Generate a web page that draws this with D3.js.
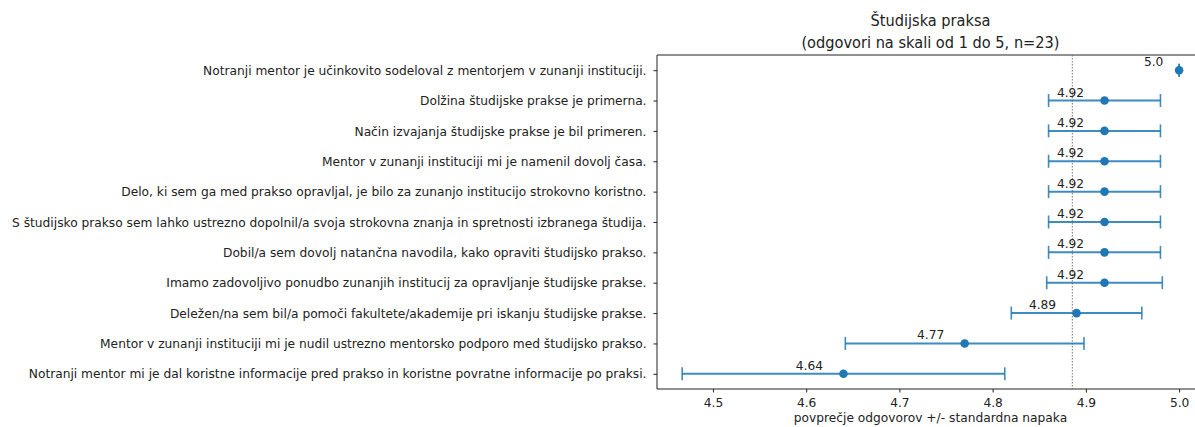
<!DOCTYPE html>
<html>
<head>
<meta charset="utf-8">
<script src="https://cdn.jsdelivr.net/npm/d3@7"></script>
<style>
  body { margin: 0; background: #fff; }
  svg { display: block; font-family: "DejaVu Sans", sans-serif; }
</style>
</head>
<body>
<div id="chart"></div>
<script>
const width = 1195
const height = 427

// data
const questions = [
  "Notranji mentor je učinkovito sodeloval z mentorjem v zunanji instituciji.",
  "Dolžina študijske prakse je primerna.",
  "Način izvajanja študijske prakse je bil primeren.",
  "Mentor v zunanji instituciji mi je namenil dovolj časa.",
  "Delo, ki sem ga med prakso opravljal, je bilo za zunanjo institucijo strokovno koristno.",
  "S študijsko prakso sem lahko ustrezno dopolnil/a svoja strokovna znanja in spretnosti izbranega študija.",
  "Dobil/a sem dovolj natančna navodila, kako opraviti študijsko prakso.",
  "Imamo zadovoljivo ponudbo zunanjih institucij za opravljanje študijske prakse.",
  "Deležen/na sem bil/a pomoči fakultete/akademije pri iskanju študijske prakse.",
  "Mentor v zunanji instituciji mi je nudil ustrezno mentorsko podporo med študijsko prakso.",
  "Notranji mentor mi je dal koristne informacije pred prakso in koristne povratne informacije po praksi."
]
const means = [5.0, 4.92, 4.92, 4.92, 4.92, 4.92, 4.92, 4.92, 4.89, 4.77, 4.64]
const stdErrors = [0, 0.06, 0.06, 0.06, 0.06, 0.06, 0.06, 0.062, 0.07, 0.128, 0.173]
const xTicks = [4.5, 4.6, 4.7, 4.8, 4.9, 5.0]

const title1 = "Študijska praksa"
const title2 = "(odgovori na skali od 1 do 5, n=23)"
const xLabel = "povprečje odgovorov +/- standardna napaka"

const blue = "#1f77b4"
const squeeze = 0.94   // text in the picture is a bit narrower than normal

const rows = questions.map((q, i) => ({q: q, mean: means[i], se: stdErrors[i]}))
const overall = d3.mean(means)

const plotLeft = 657, plotRight = 1204, plotTop = 55, plotBottom = 389

const x = d3.scaleLinear()
            .domain([4.44, 5.0267])
            .range([plotLeft, plotRight])

const y = d3.scalePoint()
            .domain(questions)
            .range([plotTop, plotBottom])
            .padding(0.5)

const svg = d3.select("#chart")
              .append("svg")
              .attr("width", width)
              .attr("height", height)

// x axis
const xAxis = svg.append("g")
   .attr("transform", `translate(0, ${plotBottom})`)
   .call(d3.axisBottom(x).tickValues(xTicks).tickFormat(d3.format(".1f")).tickSize(3.5).tickPadding(5))
xAxis.select(".domain").remove()
xAxis.selectAll("line").attr("stroke", "#222")
xAxis.selectAll("text").attr("font-size", 13).attr("fill", "#222").attr("font-family", "DejaVu Sans")

// y axis
const yAxis = svg.append("g")
   .attr("transform", `translate(${plotLeft}, 0)`)
   .call(d3.axisLeft(y).tickSize(3.5).tickPadding(7))
yAxis.select(".domain").remove()
yAxis.selectAll("line").attr("stroke", "#222")
yAxis.selectAll("text").attr("font-size", 13).attr("fill", "#222").attr("font-family", "DejaVu Sans")

// spines (right one falls outside the picture)
svg.append("path")
   .attr("d", `M${plotRight},${plotTop}H${plotLeft}V${plotBottom}H${plotRight}`)
   .attr("fill", "none")
   .attr("stroke", "#222")
   .attr("stroke-width", 1)

// mean of all means
svg.append("line")
   .attr("x1", x(overall)).attr("x2", x(overall))
   .attr("y1", plotTop).attr("y2", plotBottom)
   .attr("stroke", "#666")
   .attr("stroke-width", 0.9)
   .attr("stroke-dasharray", "1.5,1.5")

// error bars
const bars = svg.append("g")
                .selectAll("g")
                .data(rows)
                .enter()
                .append("g")

bars.append("line")
    .attr("x1", d => x(d.mean - d.se))
    .attr("x2", d => x(d.mean + d.se))
    .attr("y1", d => y(d.q)).attr("y2", d => y(d.q))
    .attr("stroke", blue)
    .attr("stroke-opacity", 0.85)
    .attr("stroke-width", 2)

bars.selectAll(".cap")
    .data(d => [d.mean - d.se, d.mean + d.se].map(v => ({v: v, q: d.q})))
    .enter()
    .append("line")
    .attr("class", "cap")
    .attr("x1", c => x(c.v)).attr("x2", c => x(c.v))
    .attr("y1", c => y(c.q) - 6.5).attr("y2", c => y(c.q) + 6.5)
    .attr("stroke", blue)
    .attr("stroke-opacity", 0.85)
    .attr("stroke-width", 1.6)

bars.append("circle")
    .attr("cx", d => x(d.mean))
    .attr("cy", d => y(d.q))
    .attr("r", 4.3)
    .attr("fill", blue)

const fmt = v => Number.isInteger(v) ? v.toFixed(1) : String(v)

bars.append("text")
    .attr("x", d => x(d.mean) - 8.5 * fmt(d.mean).length)
    .attr("y", d => y(d.q) - 4)
    .attr("text-anchor", "middle")
    .attr("font-size", 13)
    .attr("fill", "#222")
    .text(d => fmt(d.mean))

// titles
const cx = (plotLeft + plotRight) / 2
svg.append("text")
   .attr("x", cx).attr("y", 26)
   .attr("text-anchor", "middle")
   .attr("font-size", 15.5)
   .attr("fill", "#222")
   .text(title1)
svg.append("text")
   .attr("x", cx).attr("y", 48)
   .attr("text-anchor", "middle")
   .attr("font-size", 15.5)
   .attr("fill", "#222")
   .text(title2)

svg.append("text")
   .attr("x", cx).attr("y", 422)
   .attr("text-anchor", "middle")
   .attr("font-size", 13)
   .attr("fill", "#222")
   .text(xLabel)

// narrow every text a little
svg.selectAll("text").each(function() {
  const w = this.getComputedTextLength()
  d3.select(this).attr("textLength", w * squeeze).attr("lengthAdjust", "spacingAndGlyphs")
})
</script>
</body>
</html>
